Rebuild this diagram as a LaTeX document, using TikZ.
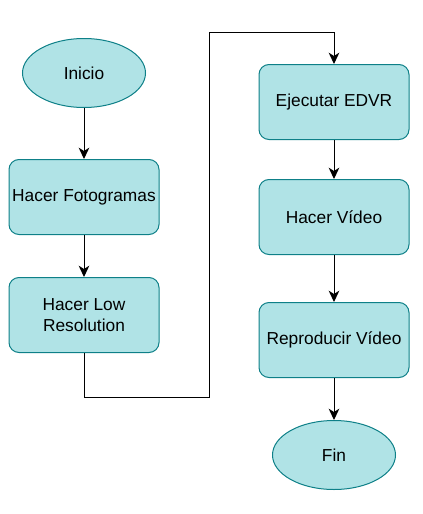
\documentclass[tikz,border=0pt]{standalone}
\usepackage{fontspec}
\setmainfont{Liberation Sans}
\usetikzlibrary{shapes.geometric,arrows.meta}
\definecolor{boxfill}{HTML}{B0E3E6}
\definecolor{boxline}{HTML}{0E8088}
\begin{document}
\begin{tikzpicture}[x=0.75pt,y=-0.75pt,
  stepbox/.style={draw=boxline,fill=boxfill,rounded corners=7.5pt,line width=0.75pt,
    minimum width=112.5pt,minimum height=56.25pt,align=center,font=\fontsize{13pt}{15.75pt}\selectfont,inner sep=1pt},
  term/.style={ellipse,draw=boxline,fill=boxfill,line width=0.75pt,
    minimum width=92.25pt,minimum height=51.75pt,inner sep=0pt,font=\fontsize{13pt}{15.75pt}\selectfont},
  arr/.style={-{Stealth[length=8.5pt,width=8pt,inset=2.5pt]},line width=0.75pt}]
\useasboundingbox (0,0) rectangle (422,514);
\node[term] (ini) at (84,73) {Inicio};
\node[stepbox] (foto) at (84,197) {Hacer Fotogramas};
\node[stepbox] (low) at (84,315) {Hacer Low\\Resolution};
\node[stepbox] (edvr) at (334,102) {Ejecutar EDVR};
\node[stepbox] (vid) at (334,217) {Hacer Vídeo};
\node[stepbox] (rep) at (334,340) {Reproducir Vídeo};
\node[term] (fin) at (334,455) {Fin};
\coordinate (c1) at (209,397);
\coordinate (c2) at (209,32);
\draw[arr] (ini) -- (foto);
\draw[arr] (foto) -- (low);
\draw[arr] (low.south) |- (c1) -- (c2) -| (edvr.north);
\draw[arr] (edvr) -- (vid);
\draw[arr] (vid) -- (rep);
\draw[arr] (rep) -- (fin);
\end{tikzpicture}
\end{document}
